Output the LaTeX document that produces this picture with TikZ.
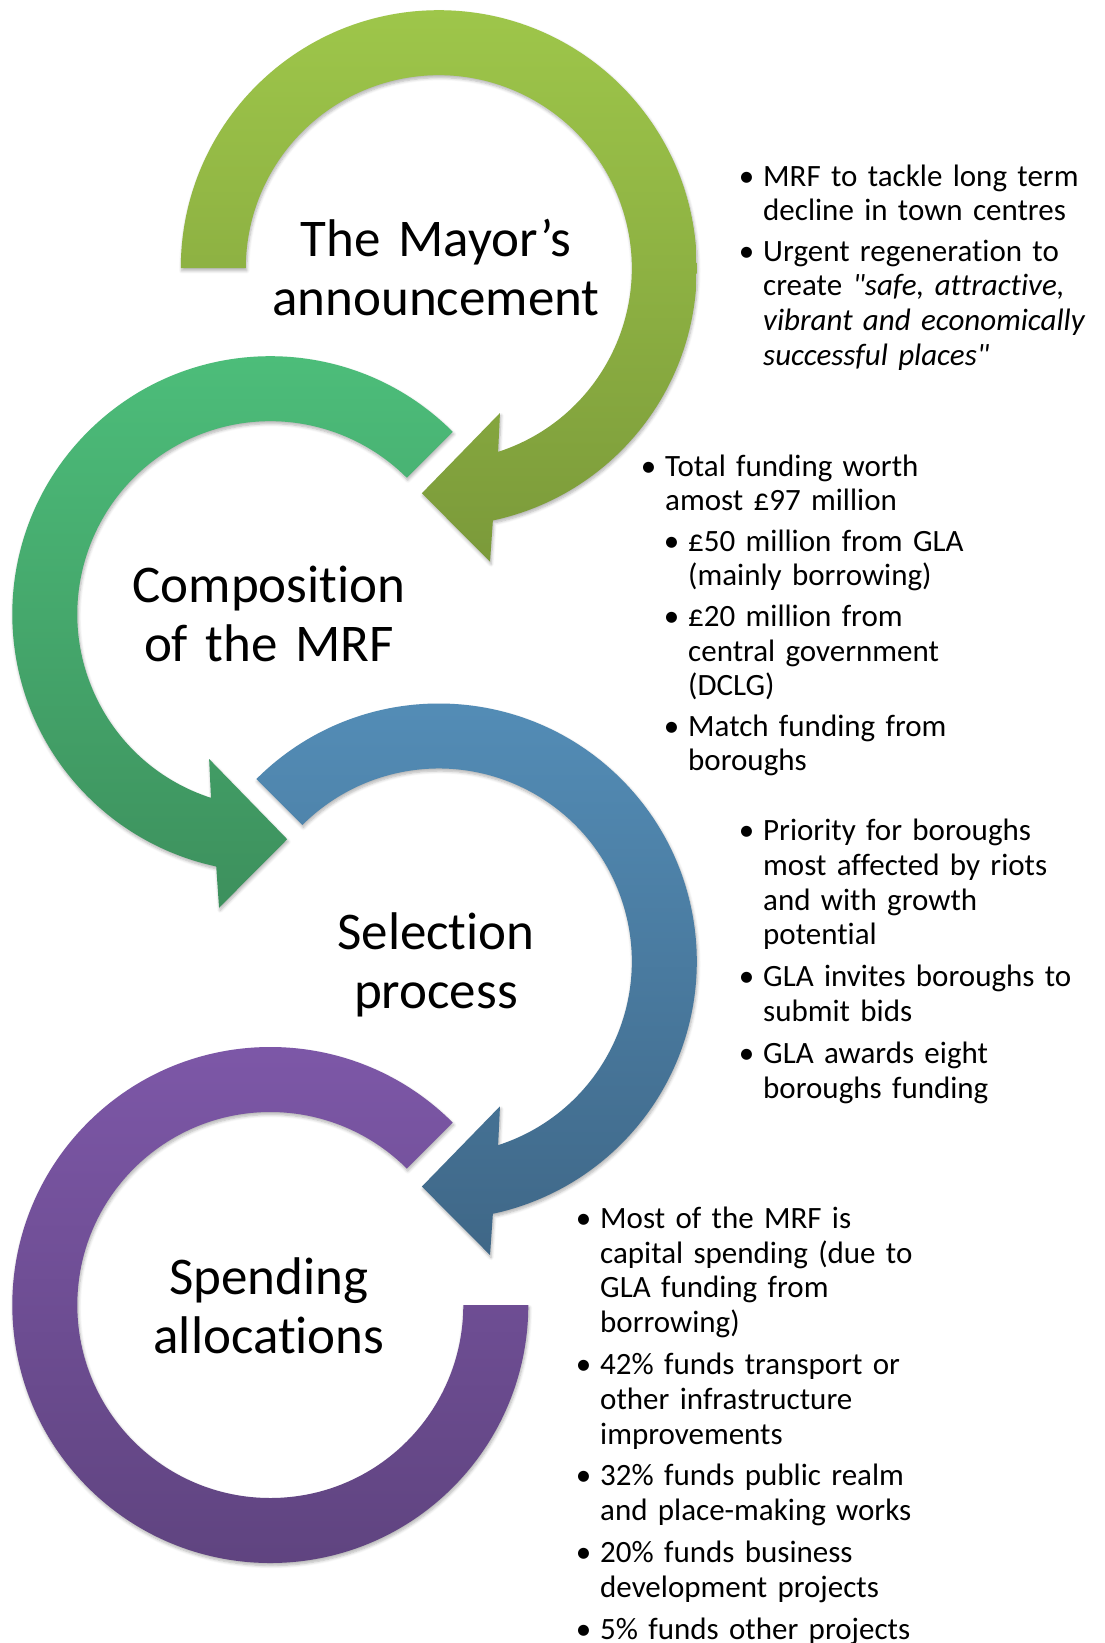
\documentclass[tikz,border=0pt]{standalone}
\usepackage{fontspec}
\setmainfont{Carlito}[Ligatures=NoCommon]
\usepackage{xcolor}
\usepackage{tikz}
\usetikzlibrary{calc,shadows.blur}

\definecolor{mayortop}{HTML}{9EC64A}
\definecolor{mayorbot}{HTML}{7B9A3A}
\definecolor{comptop}{HTML}{4DBF7B}
\definecolor{compbot}{HTML}{3D905D}
\definecolor{seltop}{HTML}{548EB8}
\definecolor{selbot}{HTML}{3F6787}
\definecolor{spendtop}{HTML}{7E58A9}
\definecolor{spendbot}{HTML}{5E437E}

\newcommand\mrfbul{\leavevmode\llap{\textbullet\hspace{9pt}}}
\newcommand\mrfsub{\hspace*{23pt}}

\tikzset{
ring/.style={blur shadow={shadow xshift=1pt,shadow yshift=-2.5pt,shadow blur radius=3pt,shadow blur steps=6,shadow opacity=30}},
title/.style={anchor=base,inner sep=0pt,text width=420pt,align=center,font={\fontsize{53}{58.5}\selectfont\lineskiplimit=-100pt}},
notes/.style={anchor=base west,inner sep=0pt,text width=380pt,align=left,font={\fontsize{31}{34.8}\selectfont\lineskiplimit=-100pt}}
}

\begin{document}
\begin{tikzpicture}[x=1pt,y=1pt]
\useasboundingbox(0,0)rectangle(1104,-1643);
\coordinate(c1)at(438.8,-268.2);
\coordinate(c2)at(270.3,-614.2);
\coordinate(c3)at(438.8,-961.5);
\coordinate(c4)at(270.3,-1305);
\shade[ring,top color=mayortop,bottom color=mayorbot]($(c1)+(180:258)$)arc[start angle=180,end angle=-77.9,radius=258]--($(c1)+(-80.1:298)$)--($(c1)+(-94.3:225.7)$)--($(c1)+(-67.1:157.2)$)--($(c1)+(-72.1:193)$)arc[start angle=-72.1,end angle=180,radius=193]--cycle;
\shade[ring,top color=comptop,bottom color=compbot]($(c2)+(45:258)$)arc[start angle=45,end angle=257.9,radius=258]--($(c2)+(260.1:298)$)--($(c2)+(274.3:225.7)$)--($(c2)+(247.1:157.2)$)--($(c2)+(252.1:193)$)arc[start angle=252.1,end angle=45,radius=193]--cycle;
\shade[ring,top color=seltop,bottom color=selbot]($(c3)+(135:258)$)arc[start angle=135,end angle=-77.9,radius=258]--($(c3)+(-80.1:298)$)--($(c3)+(-94.3:225.7)$)--($(c3)+(-67.1:157.2)$)--($(c3)+(-72.1:193)$)arc[start angle=-72.1,end angle=135,radius=193]--cycle;
\shade[ring,top color=spendtop,bottom color=spendbot]($(c4)+(45:258)$)arc[start angle=45,end angle=360,radius=258]--($(c4)+(0:193)$)arc[start angle=360,end angle=45,radius=193]--cycle;
\node[title](mayor)at(436,-256.6){The Mayor’s\\announcement};
\node[title](comp)at(269,-602.6){Composition\\of the MRF};
\node[title](sel)at(436,-949.9){Selection\\process};
\node[title](spend)at(269,-1294.5){Spending\\allocations};
\node[notes](mayornotes)at(763,-186){\mrfbul MRF to tackle long term\\decline in town centres\\[5.5pt]\mrfbul Urgent regeneration to\\create \textit{\textquotedbl safe, attractive,}\\\textit{vibrant and economically}\\\textit{successful places\textquotedbl}};
\node[notes](compnotes)at(665,-476){\mrfbul Total funding worth\\amost £97 million\\[5.5pt]\mrfsub\mrfbul £50 million from GLA\\\mrfsub(mainly borrowing)\\[5.5pt]\mrfsub\mrfbul £20 million from\\\mrfsub central government\\\mrfsub(DCLG)\\[5.5pt]\mrfsub\mrfbul Match funding from\\\mrfsub boroughs};
\node[notes](selnotes)at(763,-840.5){\mrfbul Priority for boroughs\\most affected by riots\\and with growth\\potential\\[7pt]\mrfbul GLA invites boroughs to\\submit bids\\[7pt]\mrfbul GLA awards eight\\boroughs funding};
\node[notes](spendnotes)at(600,-1228.3){\mrfbul Most of the MRF is\\capital spending (due to\\GLA funding from\\borrowing)\\[7pt]\mrfbul 42\% funds transport or\\other infrastructure\\improvements\\[7pt]\mrfbul 32\% funds public realm\\and place-making works\\[7pt]\mrfbul 20\% funds business\\development projects\\[7pt]\mrfbul 5\% funds other projects};
\end{tikzpicture}
\end{document}
